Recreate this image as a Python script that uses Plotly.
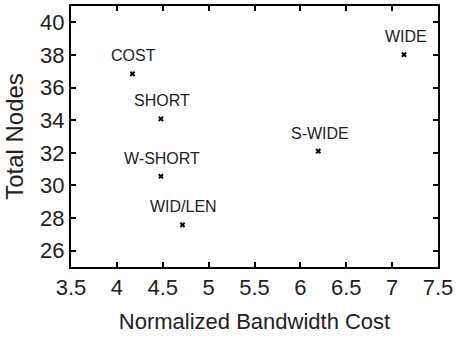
import plotly.graph_objects as go

names = ["COST", "SHORT", "W-SHORT", "WID/LEN", "WIDE", "S-WIDE"]
bandwidth_cost = [4.17, 4.48, 4.48, 4.715, 7.13, 6.195]
total_nodes = [36.84, 34.08, 30.56, 27.58, 38.02, 32.1]

x_ticks = [3.5, 4, 4.5, 5, 5.5, 6, 6.5, 7, 7.5]
x_ticklabels = ["3.5", "4", "4.5", "5", "5.5", "6", "6.5", "7", "7.5"]
y_ticks = [26, 28, 30, 32, 34, 36, 38, 40]

FONT = "Liberation Sans, Arial, sans-serif"

fig = go.Figure()
fig.add_trace(go.Scatter(
    x=bandwidth_cost, y=total_nodes, mode="markers",
    marker=dict(symbol="x", size=5, color="black", line=dict(width=0)),
    showlegend=False, hoverinfo="skip",
))

for n, xv, yv in zip(names, bandwidth_cost, total_nodes):
    fig.add_annotation(x=xv, y=yv, text=n, showarrow=False,
                       xanchor="center", yanchor="middle",
                       xshift=1.5, yshift=18,
                       font=dict(family=FONT, size=16, color="#222"))

axis_common = dict(
    showline=True, linecolor="black", linewidth=2, mirror="ticks",
    ticks="inside", ticklen=5, tickwidth=1.5, tickcolor="black",
    showgrid=False, zeroline=False,
    tickfont=dict(family=FONT, size=22, color="#222"),
)

fig.update_xaxes(range=[3.5, 7.5], tickvals=x_ticks, ticktext=x_ticklabels,
                 ticklabeloverflow="allow",
                 title=dict(text="Normalized Bandwidth Cost", standoff=14,
                            font=dict(family=FONT, size=22, color="#222")),
                 **axis_common)
fig.update_yaxes(range=[25, 41], tickvals=y_ticks,
                 title=dict(text="Total Nodes", standoff=10,
                            font=dict(family=FONT, size=24, color="#222")),
                 **axis_common)

fig.update_layout(
    width=457, height=340,
    margin=dict(l=71, r=14, t=4, b=73),
    plot_bgcolor="white", paper_bgcolor="white",
)

fig.write_html("out.html")
